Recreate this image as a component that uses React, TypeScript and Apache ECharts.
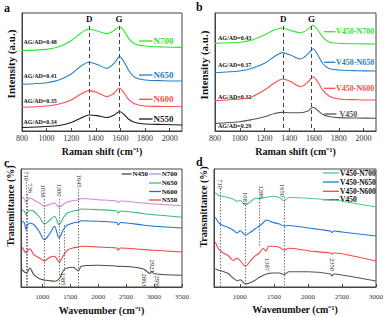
import React, { useEffect, useRef } from "react";
import * as echarts from "echarts";

const FONT = '"Liberation Serif", "Times New Roman", serif';

// ---------- Panel a / b : Raman ----------
const ramanX = [800, 1000, 1100, 1200, 1280, 1345, 1410, 1490, 1550, 1592, 1630, 1670, 1720, 1800, 1950, 2100];
const aN550 = [3.0, 3.8, 4.7, 7.2, 11.0, 13.6, 13.0, 11.4, 13.6, 16.5, 14.0, 9.7, 7.2, 5.9, 5.5, 5.1];
const aN600 = [20.1, 21.2, 22.9, 26.3, 31.4, 34.2, 32.6, 29.1, 32.2, 36.4, 32.2, 26.3, 22.9, 21.2, 20.8, 20.6];
const aN650 = [39.6, 40.9, 43.2, 48.3, 55.1, 58.2, 56.4, 53.1, 57.6, 63.0, 58.5, 50.8, 45.3, 43.2, 42.6, 42.4];
const aN700 = [68.1, 69.2, 71.4, 76.5, 83.1, 86.4, 84.7, 82.5, 85.2, 88.4, 84.7, 77.9, 73.7, 72.0, 71.2, 70.9];

const bV450 = [6.5, 7.9, 9.7, 12.1, 14.8, 15.8, 15.5, 15.5, 16.9, 20.1, 17.4, 14.0, 12.3, 11.3, 11.0, 10.8];
const bN600 = [25.7, 27.1, 29.1, 34.7, 40.7, 44.1, 41.9, 37.5, 41.5, 46.0, 41.5, 34.7, 29.7, 27.1, 26.5, 26.3];
const bN650 = [49.4, 50.8, 53.1, 57.4, 63.1, 66.4, 64.4, 61.0, 65.3, 69.7, 64.4, 57.2, 52.9, 51.7, 51.1, 50.8];
const bN700 = [74.3, 75.2, 77.1, 81.4, 85.6, 87.3, 85.2, 83.3, 86.0, 89.6, 85.6, 79.7, 75.4, 74.3, 73.9, 73.7];

const ratioA = ["AG/AD=0.48", "AG/AD=0.41", "AG/AD=0.35", "AG/AD=0.34"];
const ratioB = ["AG/AD=0.43", "AG/AD=0.37", "AG/AD=0.32", "AG/AD=0.29"];
const ramanTicks = [800, 1000, 1200, 1400, 1600, 1800, 2000];

// ---------- Panel c : FTIR ----------
const irXc = [640, 680, 710, 736, 780, 850, 950, 1038, 1130, 1220, 1300, 1385, 1450, 1550, 1645, 1700, 2000, 2330, 2360, 2400, 2800, 2863, 2923, 2956, 3000, 3500];
const cN700 = [89.7, 88, 84.7, 87, 89, 87, 84, 80.7, 82.5, 84, 80, 83, 85, 86.5, 87, 88.5, 87.3, 86, 84.5, 86, 84, 83.7, 83.4, 83.2, 83, 81.3];
const cN650 = [77.3, 76, 72.3, 75, 76.7, 75.7, 70, 63, 66.5, 70.7, 62.3, 70, 74, 76, 77, 78, 77.3, 76, 74, 76, 73.5, 73, 72.7, 72.5, 72.3, 69.7];
const cN600 = [65.7, 64, 57.3, 62, 64, 62.3, 55, 47.3, 53, 60.7, 49, 58, 62, 64, 65, 66.3, 65.7, 64.5, 62, 64.5, 62, 61.5, 61.2, 61, 60.7, 59];
const cN550 = [39.7, 36, 34, 36.3, 38.3, 32.3, 29, 26, 29.5, 30.7, 25, 32, 37, 39, 40, 40.7, 40, 39, 37, 39, 37.5, 37.2, 37, 36.8, 36.7, 35];
const cN450 = [17.3, 15, 14, 15, 19, 12.3, 8.3, 7, 6.3, 5.7, 8, 17, 19, 19.7, 16.3, 20.7, 21.7, 21, 20.5, 20.7, 18.3, 16, 13.5, 15.5, 13.3, 11.7];
const cPeaks = [
  { label: "710", x: 718, y: 111 },
  { label: "736", x: 796, y: 99 },
  { label: "1038", x: 1027, y: 96 },
  { label: "1300", x: 1311, y: 97 },
  { label: "1645", x: 1664, y: 106 },
  { label: "1385", x: 1384, y: 8 },
  { label: "2863", x: 2830, y: 7 },
  { label: "2923", x: 2980, y: 21 },
  { label: "2956", x: 3060, y: 5 },
];
const cLines = [
  { x: 710, top: 105, bottom: 0 },
  { x: 736, top: 93, bottom: 0 },
  { x: 1038, top: 88, bottom: 0 },
  { x: 1300, top: 88, bottom: 0 },
  { x: 1385, top: 62, bottom: 16 },
  { x: 1645, top: 98, bottom: 0 },
];
const irTicksC = [1000, 1500, 2000, 2500, 3000, 3500];

// ---------- Panel d : FTIR ----------
const irXd = [640, 680, 710, 760, 830, 900, 960, 1005, 1081, 1160, 1230, 1286, 1340, 1387, 1420, 1480, 1580, 1650, 1720, 2000, 2330, 2350, 2380, 2500, 3000];
const dN700 = [94, 92, 91, 90.5, 89.5, 88, 85.7, 86.5, 82, 85.5, 88.7, 88.5, 89, 89.7, 90, 90.7, 89.5, 86.5, 89.5, 88.7, 87, 86.5, 87, 85.7, 80];
const dN650 = [69.7, 65, 63, 61.3, 59.5, 57, 54, 56.3, 52, 55, 58.5, 61, 64, 67, 66.5, 64.7, 63, 61, 61.5, 59, 56, 54.5, 56, 55, 51];
const dN600 = [44.7, 39, 36.3, 34, 31.3, 26.5, 29, 26.3, 20.7, 26.5, 31.3, 34, 38.5, 36, 40.7, 40.7, 39.7, 37, 38.7, 36.3, 34, 33, 34, 33.3, 26];
const dV450 = [18, 17, 16.3, 15.5, 13.5, 9, 6.3, 7.3, 3, 4.5, 7, 9.7, 11.5, 13, 13.5, 14, 14, 12.5, 15.3, 15.3, 13, 11, 13, 12, 6];
const dPeaks = [
  { label: "710", x: 716, y: 103 },
  { label: "1081", x: 1076, y: 88.5 },
  { label: "1286", x: 1325, y: 95 },
  { label: "1650", x: 1625, y: 96.5 },
  { label: "1387", x: 1410, y: 22.5 },
  { label: "2350", x: 2360, y: 22.5 },
];
const dLines = [
  { x: 710, top: 98, bottom: 0 },
  { x: 1081, top: 82, bottom: 0 },
  { x: 1286, top: 88, bottom: 40 },
  { x: 1650, top: 90, bottom: 0 },
];
const irTicksD = [1000, 1500, 2000, 2500, 3000];

const zip = (xs: number[], ys: number[]) => xs.map((x, i) => [x, ys[i]]);

function line(name: string, g: number, xs: number[], ys: number[], color: string, extra: any = {}) {
  return {
    type: "line",
    name,
    xAxisIndex: g,
    yAxisIndex: g,
    data: zip(xs, ys),
    showSymbol: false,
    smooth: 0.3,
    silent: true,
    lineStyle: { color, width: 1.1 },
    itemStyle: { color },
    ...extra,
  };
}

function ramanMark(d: number, gx: number, top: number) {
  return {
    silent: true,
    symbol: ["none", "none"],
    lineStyle: { type: [4, 3], color: "#444", width: 1 },
    label: { show: true, position: "start", formatter: "{b}", fontFamily: FONT, fontWeight: "bold", fontSize: 9, color: "#111", distance: 2 },
    data: [
      [{ name: "D", coord: [d, top] }, { coord: [d, 0] }],
      [{ name: "G", coord: [gx, top] }, { coord: [gx, 0] }],
    ],
  };
}

function irMarks(lines: any[], peaks: any[]) {
  return {
    markLine: {
      silent: true,
      symbol: ["none", "none"],
      lineStyle: { type: [1.5, 1.5], color: "#555", width: 0.8 },
      label: { show: false },
      data: lines.map((l) => [{ coord: [l.x, l.top] }, { coord: [l.x, l.bottom] }]),
    },
    markPoint: {
      silent: true,
      symbol: "rect",
      symbolSize: 1,
      itemStyle: { color: "transparent" },
      label: { show: true, position: "inside", rotate: -90, formatter: "{b}", fontFamily: FONT, fontSize: 6.5, color: "#222" },
      data: peaks.map((p) => ({ name: p.label, coord: [p.x, p.y] })),
    },
  };
}

function xAxis(g: number, min: number, max: number, ticks: number[], name: string, fs: number, margin: number, gap: number) {
  return {
    type: "value",
    gridIndex: g,
    min,
    max,
    name,
    nameLocation: "middle",
    nameGap: gap,
    nameTextStyle: { fontFamily: FONT, fontWeight: "bold", fontSize: 10, color: "#111" },
    axisLine: { show: true, lineStyle: { color: "#444", width: 1 } },
    axisTick: { show: true, inside: true, length: 3, customValues: ticks, lineStyle: { color: "#444" } },
    axisLabel: {
      show: true,
      customValues: ticks,
      formatter: (v: number) => String(v),
      fontFamily: FONT,
      fontSize: fs,
      color: "#333",
      margin,
    },
    splitLine: { show: false },
  };
}

function yAxis(g: number, max: number) {
  return {
    type: "value",
    gridIndex: g,
    min: 0,
    max,
    axisLine: { show: true, lineStyle: { color: "#444", width: 1 } },
    axisTick: { show: false },
    axisLabel: { show: false },
    splitLine: { show: false },
  };
}

function txt(x: number, y: number, text: string, size: number, color = "#111", bold = true, align = "left", rotation = 0) {
  return {
    type: "text",
    x,
    y,
    rotation,
    silent: true,
    style: {
      text,
      fill: color,
      font: `${bold ? "bold " : ""}${size}px ${FONT}`,
      align,
      verticalAlign: "middle",
    },
  };
}

function legItem(x1: number, x2: number, y: number, color: string, label: string, tcolor: string, size: number, tx: number) {
  return [
    { type: "line", silent: true, shape: { x1, y1: y, x2, y2: y }, style: { stroke: color, lineWidth: 1.3 } },
    txt(tx, y, label, size, tcolor, true, "left"),
  ];
}

const C = {
  aN700: "#2fe42f", aN650: "#2a7fc6", aN600: "#ff4d4d", aN550: "#1a1a1a",
  bN700: "#33e633", bN650: "#2a7fc6", bN600: "#ff4d4d", bV450: "#555555",
  cN700: "#c98ad8", cN650: "#3dbb7a", cN600: "#1f6fdc", cN550: "#f04040", cN450: "#4a4a4a",
  dN700: "#4ccc88", dN650: "#2277dd", dN600: "#f04a4a", dV450: "#555555",
};

export default function App() {
  const ref = useRef<HTMLDivElement>(null);
  useEffect(() => {
    if (!ref.current) return;
    const chart = echarts.init(ref.current, null, { renderer: "svg" });
    const grid = (left: number, top: number, width: number, height: number) => ({
      left, top, width, height, show: true, borderColor: "#444", borderWidth: 1, backgroundColor: "transparent",
    });
    const graphic: any[] = [
      txt(4, 8, "a", 12), txt(196, 7, "b", 12), txt(4, 163, "c", 12), txt(196, 162, "d", 12),
      txt(11, 64, "Intensity (a.u.)", 11, "#111", true, "center", Math.PI / 2),
      txt(204, 65, "Intensity (a.u.)", 11, "#111", true, "center", Math.PI / 2),
      txt(10, 206, "Transmittance (%)", 10, "#111", true, "center", Math.PI / 2),
      txt(203, 207, "Transmittance (%)", 10, "#111", true, "center", Math.PI / 2),
      txt(23.5, 42.3, ratioA[0], 6), txt(23.5, 76, ratioA[1], 6), txt(23.5, 100.5, ratioA[2], 6), txt(23.5, 121.7, ratioA[3], 6),
      txt(218, 37.7, ratioB[0], 6), txt(218, 65, ratioB[1], 6), txt(218, 97.3, ratioB[2], 6), txt(218, 126, ratioB[3], 6),
      ...legItem(139, 152.5, 41, C.aN700, "N700", C.aN700, 9, 153.5),
      ...legItem(139, 152.5, 75, C.aN650, "N650", C.aN650, 9, 153.5),
      ...legItem(139, 152.5, 99.3, C.aN600, "N600", C.aN600, 9, 153.5),
      ...legItem(139, 152.5, 119, C.aN550, "N550", C.aN550, 9, 153.5),
      ...legItem(324, 335.5, 31.7, C.bN700, "V450-N700", C.bN700, 8, 336),
      ...legItem(324, 335.5, 62.3, C.bN650, "V450-N650", C.bN650, 8, 336),
      ...legItem(324, 335.5, 88.3, C.bN600, "V450-N600", C.bN600, 8, 336),
      ...legItem(324.5, 336.5, 114, C.bV450, "V450", C.bV450, 8, 339.5),
      ...legItem(121.7, 131.7, 174, C.cN450, "N450", "#111", 7, 132.5),
      ...legItem(149, 161, 174, C.cN700, "N700", "#111", 7, 161.7),
      ...legItem(149, 161, 183, C.cN650, "N650", "#111", 7, 161.7),
      ...legItem(149, 161, 191.5, C.cN600, "N600", "#111", 7, 161.7),
      ...legItem(149, 161, 200, C.cN550, "N550", "#111", 7, 161.7),
      ...legItem(323, 339, 173, C.dN700, "V450-N700", "#111", 7.5, 340),
      ...legItem(323, 339, 182, C.dN650, "V450-N650", "#111", 7.5, 340),
      ...legItem(323, 339, 191.3, C.dN600, "V450-N600", "#111", 7.5, 340),
      ...legItem(323, 339, 199.7, C.dV450, "V450", "#111", 7.5, 340),
    ];
    const option: any = {
      animation: false,
      textStyle: { fontFamily: FONT },
      grid: [grid(22, 13, 160, 118), grid(215, 13, 161, 118), grid(21, 169, 161, 118), grid(214, 169, 162, 118)],
      xAxis: [
        xAxis(0, 800, 2100, ramanTicks, "Raman shift (cm\u207B\u00B9)", 8, 3, 15),
        xAxis(1, 800, 2100, ramanTicks, "Raman shift (cm\u207B\u00B9)", 8, 3, 15),
        xAxis(2, 620, 3500, irTicksC, "Wavenumber (cm\u207B\u00B9)", 7, 6, 18),
        xAxis(3, 620, 3000, irTicksD, "Wavenumber (cm\u207B\u00B9)", 7, 6, 17),
      ],
      yAxis: [yAxis(0, 100), yAxis(1, 100), yAxis(2, 118), yAxis(3, 118)],
      series: [
        line("aN550", 0, ramanX, aN550, C.aN550, { markLine: ramanMark(1347, 1588, 89) }),
        line("aN600", 0, ramanX, aN600, C.aN600),
        line("aN650", 0, ramanX, aN650, C.aN650),
        line("aN700", 0, ramanX, aN700, C.aN700),
        line("bV450", 1, ramanX, bV450, C.bV450, { markLine: ramanMark(1352, 1580, 89) }),
        line("bN600", 1, ramanX, bN600, C.bN600),
        line("bN650", 1, ramanX, bN650, C.bN650),
        line("bN700", 1, ramanX, bN700, C.bN700),
        line("cN450", 2, irXc, cN450, C.cN450, irMarks(cLines, cPeaks)),
        line("cN550", 2, irXc, cN550, C.cN550),
        line("cN600", 2, irXc, cN600, C.cN600),
        line("cN650", 2, irXc, cN650, C.cN650),
        line("cN700", 2, irXc, cN700, C.cN700),
        line("dV450", 3, irXd, dV450, C.dV450, irMarks(dLines, dPeaks)),
        line("dN600", 3, irXd, dN600, C.dN600),
        line("dN650", 3, irXd, dN650, C.dN650),
        line("dN700", 3, irXd, dN700, C.dN700),
      ],
      graphic,
    };
    chart.setOption(option);
    return () => chart.dispose();
  }, []);
  return <div ref={ref} style={{ position: "fixed", left: 0, top: 0, width: 386, height: 317, background: "#fff" }} />;
}
